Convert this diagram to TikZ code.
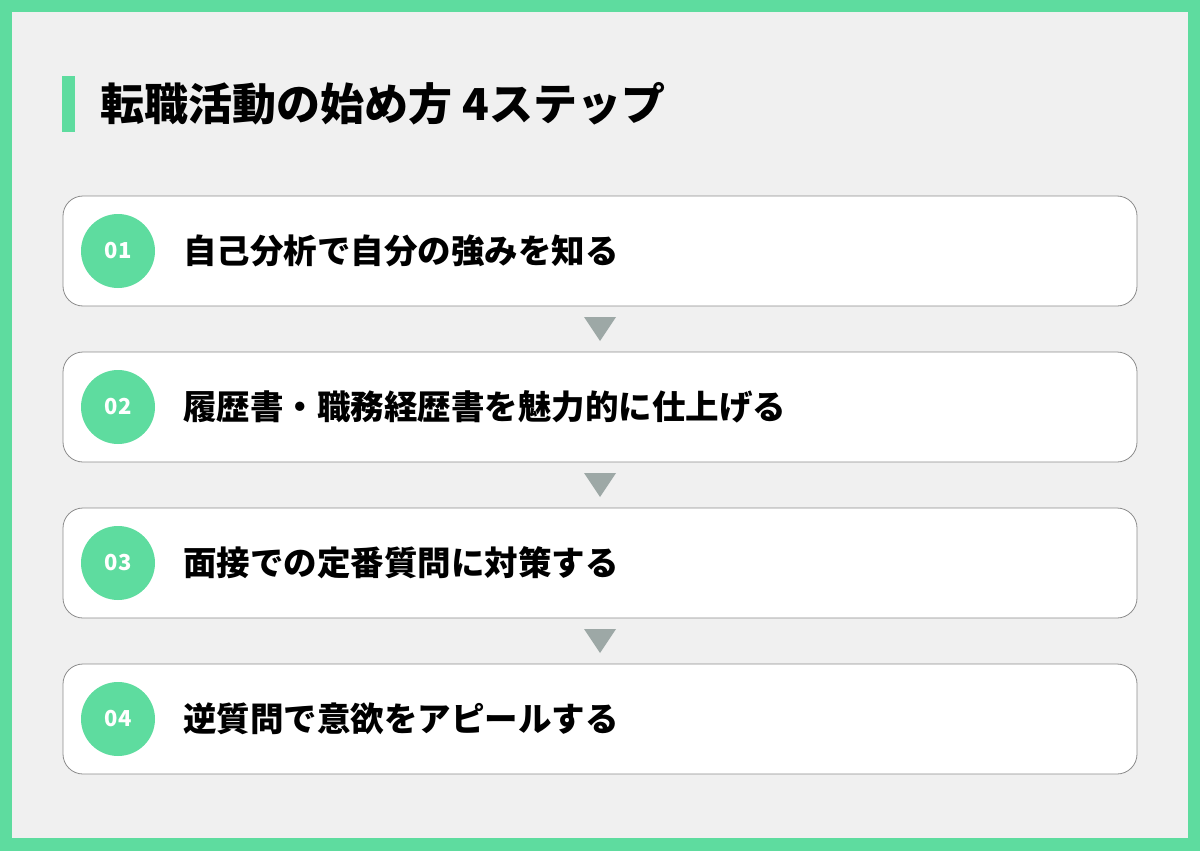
\documentclass[tikz,border=0pt]{standalone}
\usepackage{fontspec}
\setmainfont{Noto Sans CJK JP}
\usetikzlibrary{positioning,calc}
\definecolor{mint}{HTML}{5EDC9F}
\definecolor{paper}{HTML}{F0F0F0}
\definecolor{edge}{HTML}{8C8C8C}
\definecolor{tri}{HTML}{9DA8A6}
\tikzset{
	stepbox/.style={draw=edge,line width=0.8pt,fill=white,rounded corners=20pt,minimum width=1074pt,minimum height=110pt,inner sep=0pt},
	numdot/.style={circle,fill=mint,minimum size=74pt,inner sep=0pt,text=white,font=\bfseries\fontsize{22}{22}\selectfont},
	steptext/.style={anchor=west,inner sep=0pt,font=\bfseries\fontsize{33.5}{33.5}\selectfont},
}
\begin{document}
\begin{tikzpicture}[x=1pt,y=-1pt]
	\useasboundingbox (0,0) rectangle (1200,851);
	\fill[mint] (0,0) rectangle (1200,851);
	\fill[paper] (12,12) rectangle (1188,838);
	\fill[mint] (62,76) rectangle (75,132);
	\node[anchor=west,inner sep=0pt,font=\bfseries\fontsize{44}{44}\selectfont] (title) at (100,104) {転職活動の始め方 4ステップ};
	\foreach \i/\y/\t in {1/251/自己分析で自分の強みを知る,2/407/履歴書・職務経歴書を魅力的に仕上げる,3/563/面接での定番質問に対策する,4/719/逆質問で意欲をアピールする}{
		\node[stepbox] (step\i) at (600,\y) {};
		\node[numdot] (num\i) at (118,\y) {0\i};
		\node[steptext] (lab\i) at (183,\y) {\t};
	}
	\foreach \i [evaluate=\i as \j using int(\i+1)] in {1,2,3}
	\fill[tri] ($(step\i.south)!0.5!(step\j.north)$) +(-16,-12) -- +(16,-12) -- +(0,12) -- cycle;
\end{tikzpicture}
\end{document}
